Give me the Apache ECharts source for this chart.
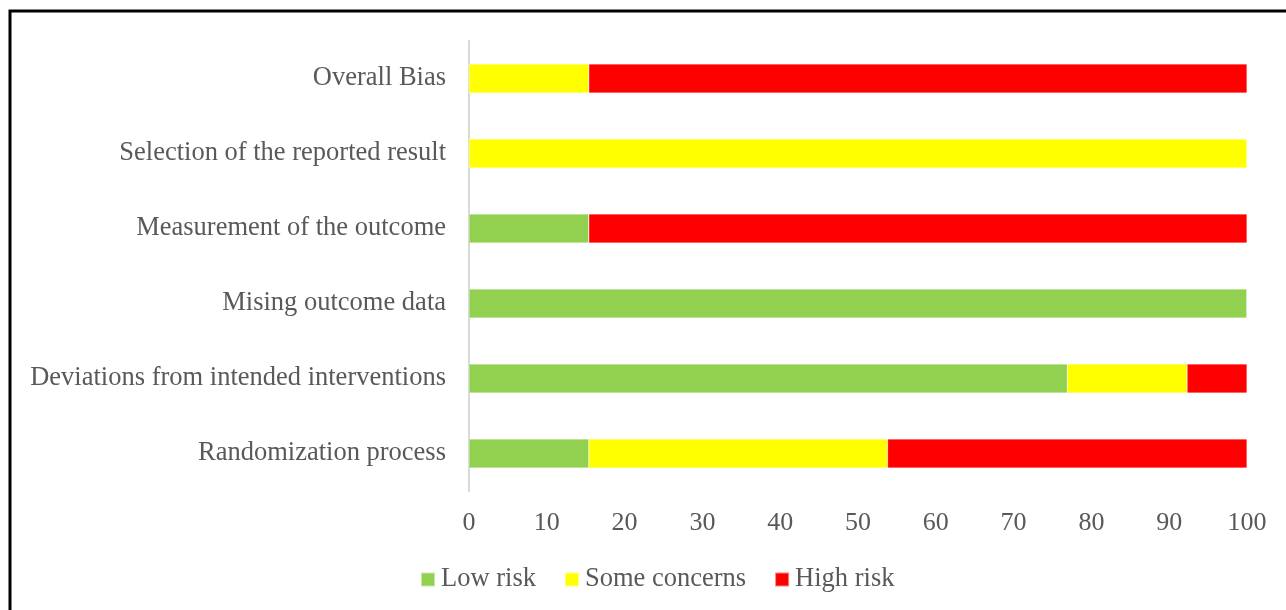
<!DOCTYPE html>
<html>
<head>
<meta charset="utf-8">
<script src="https://cdn.jsdelivr.net/npm/echarts@6/dist/echarts.min.js"></script>
<style>
  html, body { margin: 0; padding: 0; background: #fff; }
  #chart { width: 1286px; height: 610px; }
</style>
</head>
<body>
<div id="chart"></div>
<script>
// Risk-of-bias domains (bottom to top on the category axis)
const categories = [
  'Randomization process',
  'Deviations from intended interventions',
  'Mising outcome data',
  'Measurement of the outcome',
  'Selection of the reported result',
  'Overall Bias'
];

// Percent of studies per judgement
const lowRisk      = [15.4, 76.9, 100, 15.4, 0, 0];
const someConcerns = [38.4, 15.4, 0, 0, 100, 15.4];
const highRisk     = [46.2, 7.7, 0, 84.6, 0, 84.6];

const xTicks = { min: 0, max: 100, interval: 10 };

const FONT = '"Liberation Serif", "Times New Roman", serif';
const TEXT = '#595959';

const chart = echarts.init(document.getElementById('chart'), null, { renderer: 'canvas' });

function barSeries(name, data, color) {
  return {
    name: name,
    type: 'bar',
    stack: 'total',
    data: data,
    barWidth: 29,
    itemStyle: { color: color, borderColor: 'rgba(255,255,255,0.5)', borderWidth: 0.5 },
    emphasis: { disabled: true }
  };
}

chart.setOption({
  animation: false,
  backgroundColor: '#fff',
  graphic: [{
    type: 'rect',
    shape: { x: 10, y: 11, width: 1400, height: 800 },
    style: { fill: 'none', stroke: '#000', lineWidth: 3 },
    silent: true
  }],
  grid: { left: 469, right: 39, top: 41, bottom: 119, containLabel: false },
  legend: {
    left: 420,
    top: 566,
    padding: 0,
    itemWidth: 14,
    itemHeight: 14,
    itemGap: 28,
    icon: 'rect',
    textStyle: { fontFamily: FONT, fontSize: 26.5, color: TEXT, padding: [0, 0, 0, 1] },
    data: ['Low risk', 'Some concerns', 'High risk']
  },
  xAxis: {
    type: 'value',
    min: xTicks.min,
    max: xTicks.max,
    interval: xTicks.interval,
    axisLine: { show: false },
    axisTick: { show: false },
    splitLine: { show: false },
    axisLabel: { fontFamily: FONT, fontSize: 26, color: TEXT, margin: 19 }
  },
  yAxis: {
    type: 'category',
    data: categories,
    axisLine: { show: true, lineStyle: { color: '#d9d9d9', width: 2 } },
    axisTick: { show: false },
    axisLabel: { fontFamily: FONT, fontSize: 26.5, color: TEXT, margin: 23 }
  },
  series: [
    barSeries('Low risk', lowRisk, '#92d050'),
    barSeries('Some concerns', someConcerns, '#ffff00'),
    barSeries('High risk', highRisk, '#ff0000')
  ]
});
</script>
</body>
</html>
